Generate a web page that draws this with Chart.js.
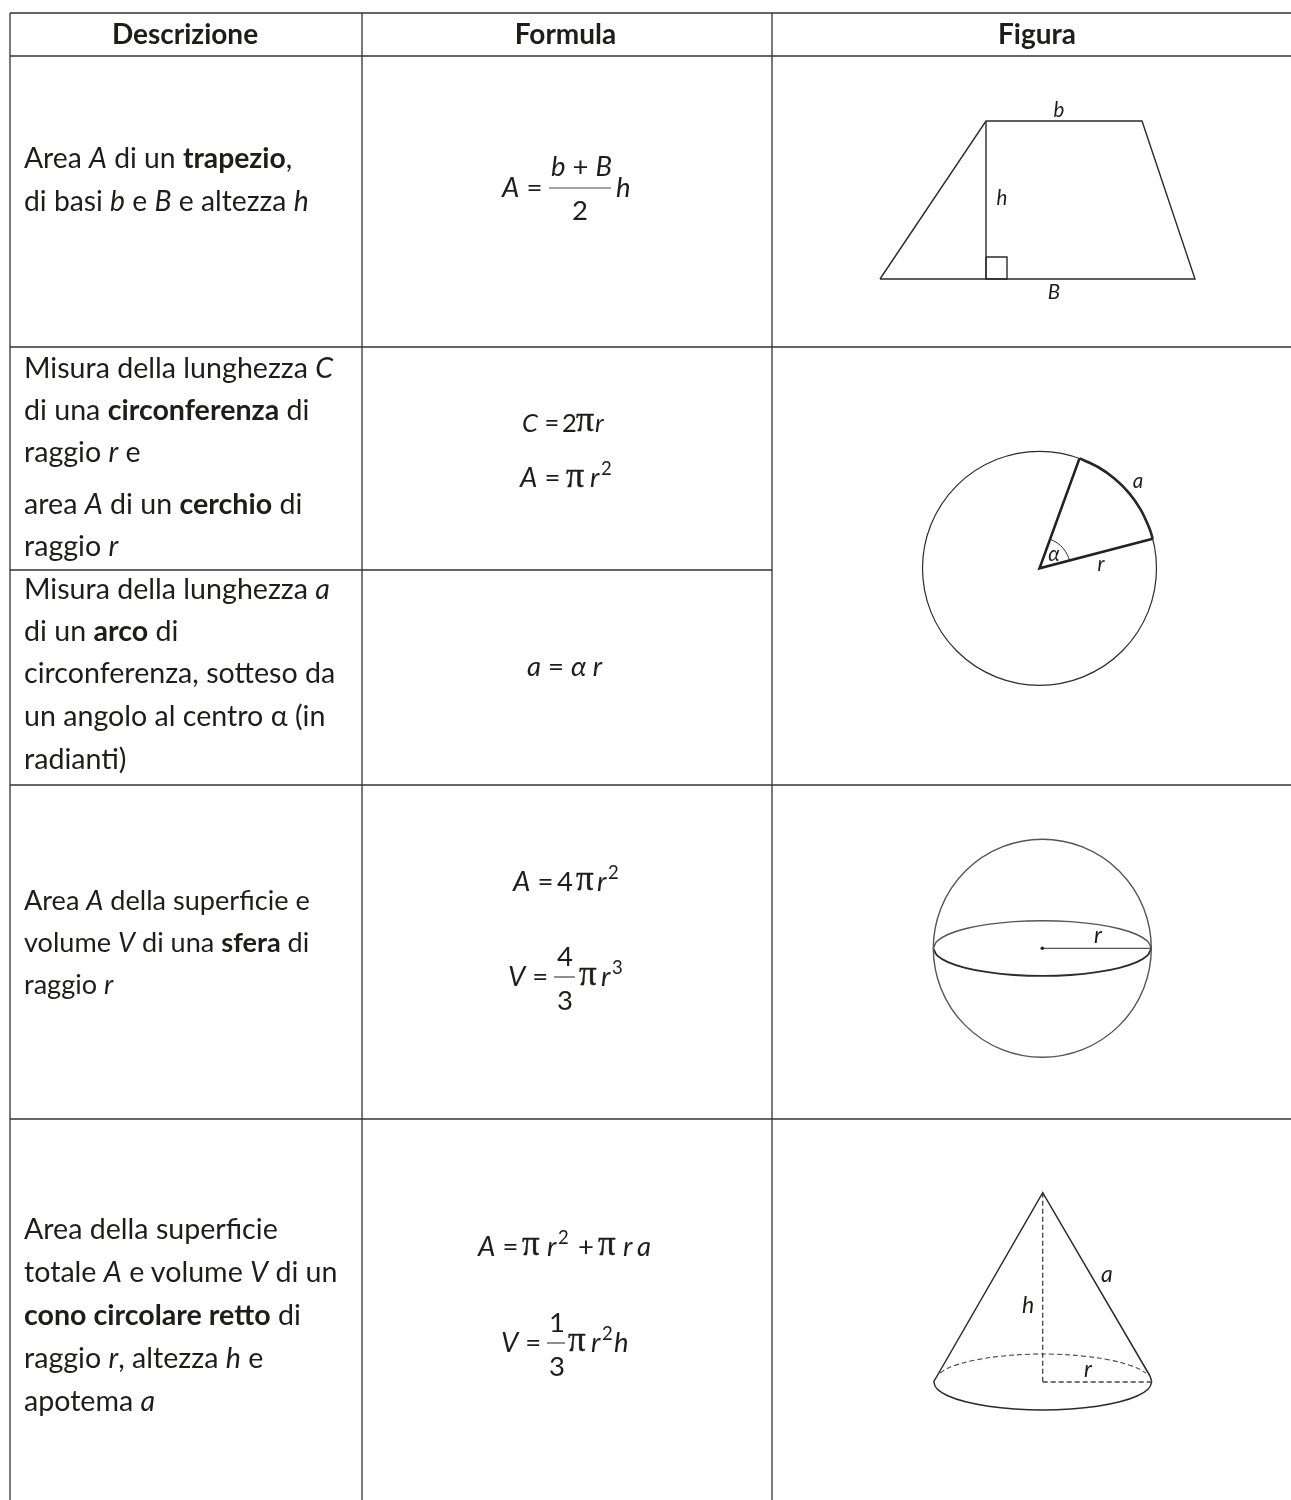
<!DOCTYPE html>
<html lang="it"><head><meta charset="utf-8">
<script src="https://cdn.jsdelivr.net/npm/chart.js@4"></script>
<style>
html,body{margin:0;padding:0;background:#fff;overflow:hidden;width:1291px;height:1500px}
#wrap{position:relative;width:1291px;height:1500px;font-family:Lato,sans-serif;color:#1d1d1b}
canvas{position:absolute;left:0;top:0}
.t{position:absolute;white-space:pre;line-height:0;font-size:28.6px;font-kerning:normal}
.c{transform:translateX(-50%)}
.h{font-weight:700;font-size:28px}
.tight{font-size:27.1px}
.mid{font-size:28.3px}
.f{font-size:27.5px}
.n{font-size:25.5px}
.l{font-size:20.5px}
.l2{font-size:23px}
.s{font-size:18.5px}
.p{font-family:"Liberation Serif",serif;font-size:36px;-webkit-text-stroke:.35px #1d1d1b}
.p2{font-family:"Liberation Serif",serif;font-size:35px;-webkit-text-stroke:.35px #1d1d1b}
i{font-style:italic}
</style></head><body><div id="wrap"><canvas id="c" width="1291" height="1500"></canvas></div>
<script>
// ---- table rules
const gridHorizontal = [[10,1291,13],[10,1291,56],[10,1291,347],[10,772,570],[10,1291,785],[10,1291,1119]];
const gridVertical = [[10,13,1500],[362,13,1500],[772,13,1500]];
// ---- fraction bars
const fractionBars = [[549,611,188],[554,575,977],[547,565,1343]];
// ---- trapezoid
const trapezoid = [[880,279],[986,121],[1142,121],[1195,279],[880,279]];
const trapezoidHeight = [[986,121],[986,279]];
const rightAngle = [[986,257],[1007,257],[1007,279],[986,279],[986,257]];
// ---- circle
const circleCentre = [[1039.5,568.3]];
const circleRadiusPx = [117];
const sectorRadii = [[1079.5,458.4],[1039.5,568.3],[1152.7,538.8]];
const sectorArc = [[1079.5,458.4],[1098,467],[1114.7,478.7],[1129.1,493.1],[1140.8,509.8],[1149.4,528.3],[1152.7,538.8]];
const angleArc = [[1050.1,539.2],[1057.3,542.9],[1063.2,548.4],[1067.6,555.2],[1069.5,560.5]];
// ---- sphere
const sphereCentre = [[1042.3,948.3]];
const sphereRadiusPx = [109];
const sphereRadius = [[1042.3,948.3],[1151.3,948.3]];
const equatorX = [933.3,937,947.9,965.2,987.8,1014.1,1042.3,1070.5,1096.8,1119.4,1136.7,1147.6,1151.3];
const equatorUpperY = [948.3,941.2,934.5,928.8,924.4,921.6,920.7,921.6,924.4,928.8,934.5,941.2,948.3];
const equatorLowerY = [948.3,955.4,962.1,967.8,972.2,975,975.9,975,972.2,967.8,962.1,955.4,948.3];
// ---- cone
const coneSides = [[936.5,1377],[1042.7,1192.7],[1150,1376]];
const coneHeight = [[1042.7,1192.7],[1042.7,1382]];
const coneRadius = [[1042.7,1382],[1151.7,1382]];
const baseX = [936.5,933.9,937.4,948.3,965.6,988.2,1014.5,1042.7,1070.9,1097.2,1119.8,1137.1,1148,1151.6,1150];
const baseLowerY = [1377,1382,1389.2,1396,1401.8,1406.2,1409,1410,1409,1406.2,1401.8,1396,1389.2,1382,1376];
const baseUpperX = [940,948.3,965.6,988.2,1014.5,1042.7,1070.9,1097.2,1119.8,1137.1,1146];
const baseUpperY = [1373,1368,1362.2,1357.8,1355,1354,1355,1357.8,1362.2,1368,1373];

const pts = a => a.map(([x,y]) => ({x,y}));
const zip = (xs,ys) => xs.map((x,i) => ({x,y:ys[i]}));
const INK = '#2b2b2b';
const line = (data,w=1.2,extra={}) => ({data,showLine:true,pointRadius:0,borderColor:INK,borderWidth:w,backgroundColor:'transparent',...extra});
const datasets = [];
gridHorizontal.forEach(([a,b,y]) => datasets.push(line(pts([[a,y],[b,y]]),1.3,{borderColor:'#333'})));
gridVertical.forEach(([x,a,b]) => datasets.push(line(pts([[x,a],[x,b]]),1.3,{borderColor:'#333'})));
fractionBars.forEach(([a,b,y]) => datasets.push(line(pts([[a,y],[b,y]]),1.2,{borderColor:'#444'})));
datasets.push(line(pts(trapezoid),1.4));
datasets.push(line(pts(trapezoidHeight),1.4));
datasets.push(line(pts(rightAngle),1.4));
datasets.push({data:pts(circleCentre),pointRadius:circleRadiusPx[0],pointBorderColor:INK,pointBorderWidth:1.2,pointBackgroundColor:'transparent'});
datasets.push(line(pts(sectorRadii),2.6,{borderColor:'#222'}));
datasets.push(line(pts(sectorArc),2.6,{tension:.3,borderColor:'#222'}));
datasets.push(line(pts(angleArc),1,{tension:.3}));
datasets.push({data:pts(sphereCentre),pointRadius:sphereRadiusPx[0],pointBorderColor:'#555',pointBorderWidth:1.4,pointBackgroundColor:'transparent'});
datasets.push({data:pts(sphereCentre),pointRadius:1.8,pointBorderWidth:0,pointBackgroundColor:'#222'});
datasets.push(line(pts(sphereRadius),1));
datasets.push(line(zip(equatorX,equatorUpperY),1.4,{tension:.3,borderColor:'#555'}));
datasets.push(line(zip(equatorX,equatorLowerY),1.8,{tension:.3}));
datasets.push(line(pts(coneSides),1.5));
datasets.push(line(pts(coneHeight),1.3,{borderDash:[5,3],borderColor:'#444'}));
datasets.push(line(pts(coneRadius),1.3,{borderDash:[5,3],borderColor:'#444'}));
datasets.push(line(zip(baseX,baseLowerY),1.5,{tension:.3}));
datasets.push(line(zip(baseUpperX,baseUpperY),1.1,{tension:.3,borderDash:[5,3],borderColor:'#444'}));

new Chart(document.getElementById('c'),{type:'scatter',data:{datasets},options:{
  responsive:false,animation:false,events:[],devicePixelRatio:1,
  layout:{padding:0,autoPadding:false},
  plugins:{legend:{display:false},tooltip:{enabled:false},title:{display:false}},
  scales:{x:{type:'linear',min:0,max:1291,display:false},y:{type:'linear',min:0,max:1500,reverse:true,display:false}}
}});

// ---- text
const headers = [['Descrizione',185],['Formula',565.5],['Figura',1037]];
const descriptions = [
 [167,'Area <i>A</i> di un <b>trapezio</b>,','mid'],
 [210,'di basi <i>b</i> e <i>B</i> e altezza <i>h</i>','mid'],
 [377,'Misura della lunghezza <i>C</i>'],
 [419,'di una <b>circonferenza</b> di'],
 [461,'raggio <i>r</i> e'],
 [513,'area <i>A</i> di un <b>cerchio</b> di'],
 [555,'raggio <i>r</i>'],
 [598,'Misura della lunghezza <i>a</i>'],
 [640,'di un <b>arco</b> di'],
 [682,'circonferenza, sotteso da'],
 [725,'un angolo al centro α (in'],
 [768,'radianti)'],
 [910,'Area <i>A</i> della superficie e','tight'],
 [952,'volume <i>V</i> di una <b>sfera</b> di','tight'],
 [994,'raggio <i>r</i>','tight'],
 [1238,'Area della superficie'],
 [1281,'totale <i>A</i> e volume <i>V</i> di un'],
 [1324,'<b>cono circolare retto</b> di'],
 [1367,'raggio <i>r</i>, altezza <i>h</i> e'],
 [1410,'apotema <i>a</i>']
];
const formulaPieces = [
 [502,197,'f','<i>A</i> ='],[551,176,'f','<i>b</i> + <i>B</i>'],[572,220,'f','2'],[616,197,'f','<i>h</i>'],
 [522,431,'n','<i>C</i> ='],[562,431,'n','2'],[576,431,'p','π'],[595,431,'n','<i>r</i>'],
 [520,487,'f','<i>A</i> ='],[566,487,'p','π'],[590,487,'f','<i>r</i>'],[601,475,'s','2'],
 [527,676,'f','<i>a</i> = <i>α r</i>'],
 [513,891,'f','<i>A</i> ='],[557,891,'f','4'],[576,891,'p2','π'],[597,891,'f','<i>r</i>'],[608,879,'s','2'],
 [508,986,'f','<i>V</i> ='],[557,966,'f','4'],[557,1010,'f','3'],[579,986,'p2','π'],[601,986,'f','<i>r</i>'],[612,974,'s','3'],
 [478,1256,'f','<i>A</i> ='],[522,1256,'p2','π'],[547,1256,'f','<i>r</i>'],[558,1244,'s','2'],[578,1256,'f','+'],[598,1256,'p2','π'],[623,1256,'f','<i>r</i>'],[637,1256,'f','<i>a</i>'],
 [501,1352,'f','<i>V</i> ='],[549,1332,'f','1'],[549,1376,'f','3'],[568,1352,'p2','π'],[591,1352,'f','<i>r</i>'],[602,1340,'s','2'],[614,1352,'f','<i>h</i>']
];
const figureLabels = [
 [1059,116,'l','<i>b</i>'],[1002,204,'l','<i>h</i>'],[1054,298,'l','<i>B</i>'],
 [1138,487,'l','<i>a</i>'],[1101,570,'l','<i>r</i>'],[1054,560,'l','<i>α</i>'],
 [1098,942,'l2','<i>r</i>'],
 [1028,1312,'l2','<i>h</i>'],[1107,1281,'l2','<i>a</i>'],[1088,1376,'l2','<i>r</i>']
];
const wrap = document.getElementById('wrap');
function put(x,base,cls,html,centre){
  const d = document.createElement('div');
  d.className = 't ' + cls + (centre ? ' c' : '');
  d.innerHTML = html;
  d.style.left = x + 'px';
  wrap.appendChild(d);
  const size = parseFloat(getComputedStyle(d).fontSize);
  const k = cls.startsWith('p') ? 0.33 : 0.355;
  d.style.top = (base - k*size) + 'px';
}
headers.forEach(([s,x]) => put(x,43,'h',s,true));
descriptions.forEach(([y,s,c]) => put(24,y,c||'',s));
formulaPieces.forEach(([x,y,c,s]) => put(x,y,c,s));
figureLabels.forEach(([x,y,c,s]) => put(x,y,c,s,true));
</script></body></html>
